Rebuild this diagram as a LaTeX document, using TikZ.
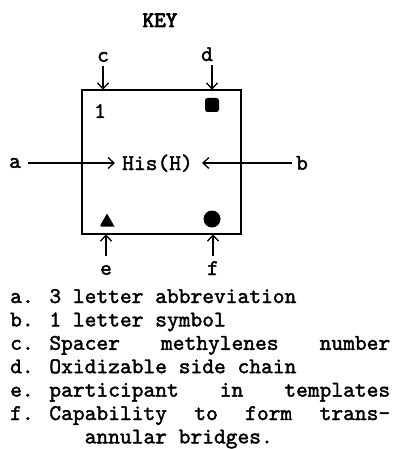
\documentclass[tikz,border=0pt]{standalone}
\usepackage{fontspec}
\newfontfamily\tw{lmmono10-regular.otf}[FakeBold=1.8]
\newfontfamily\twb{lmmono10-regular.otf}[FakeBold=3.5]
\usetikzlibrary{arrows.meta}
\begin{document}
\begin{tikzpicture}[x=1pt,y=-1pt,
  lbl/.style={font=\tw\fontsize{22.4}{26}\selectfont, inner sep=0pt},
  txt/.style={font=\tw\fontsize{22.4}{26}\selectfont, inner sep=0pt, anchor=base west},
  arr/.style={line width=1.2pt, -{Straight Barb[length=6pt,width=11pt,line width=1.3pt]}},
  blob/.style={fill=black, draw=none}]
\useasboundingbox (0,0) rectangle (401,449);
% title
\node[font=\twb\fontsize{22}{26}\selectfont, inner sep=0pt, anchor=base] (key) at (160,27) {KEY};
% box
\draw[line width=1.3pt] (82,90) rectangle (241,234);
\node[inner sep=0pt, minimum width=159pt, minimum height=144pt] (box) at (161.5,162) {};
% inner content
\node[lbl, anchor=center] (one) at (100,111) {1};
\node[lbl, anchor=base] (his) at (157.5,170) {His(H)};
\node[blob, rounded corners=2.5pt, minimum size=14pt, inner sep=0pt] (sq) at (212,105) {};
\node[blob, circle, minimum size=17pt, inner sep=0pt] (ci) at (212,219) {};
\fill (99.5,226.5) -- (114.5,226.5) -- (107,213.5) [rounded corners=1.5pt] -- cycle;
\coordinate (tri) at (107,220);
% labels
\node[lbl, anchor=center] (c) at (103,57) {c};
\node[lbl, anchor=base] (d) at (207,61) {d};
\node[lbl, anchor=center] (a) at (15,163) {a};
\node[lbl, anchor=center] (b) at (302,163) {b};
\node[lbl, anchor=center] (e) at (106,270) {e};
\node[lbl, anchor=base] (f) at (213,275) {f};
% arrows
\draw[arr, shorten <=3.5pt] (c.south) -- (c.south |- box.north);
\coordinate (dtop) at (212,65);
\draw[arr] (dtop) -- (dtop |- box.north);
\draw[arr, shorten <=7pt, shorten >=7pt] (a.east) -- (his.west |- a.east);
\draw[arr, shorten <=4pt, shorten >=9pt] (b.west) -- (his.east |- b.west);
\coordinate (ebot) at (106,256);
\draw[arr] (ebot) -- (ebot |- box.south);
\coordinate (fbot) at (213,256);
\draw[arr] (fbot) -- (fbot |- box.south);
% legend
\node[txt] (la) at (10,303) {a. 3 letter abbreviation};
\node[txt] (lb) at (10,326.4) {b. 1 letter symbol};
\node[txt] (lc) at (10,349.8) {\makebox[380pt][l]{c. Spacer\hfill methylenes\hfill number}};
\node[txt] (ld) at (10,373.2) {d. Oxidizable side chain};
\node[txt] (le) at (10,396.6) {\makebox[380pt][l]{e. participant\hfill in\hfill templates}};
\node[txt] (lf) at (10,420) {\makebox[380pt][l]{f. Capability\hfill to\hfill form\hfill trans-}};
\node[txt] (lg) at (10,443.4) {\hphantom{f. Cap}annular bridges.};
\end{tikzpicture}
\end{document}
